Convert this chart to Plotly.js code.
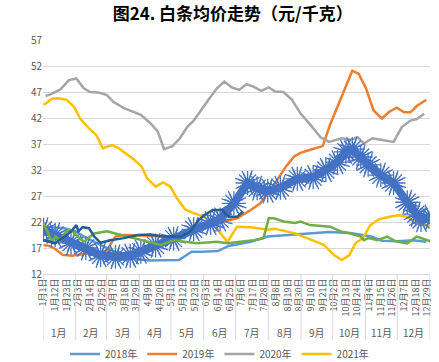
<!DOCTYPE html>
<html>
<head>
<meta charset="utf-8">
<script src="https://cdn.plot.ly/plotly-3.0.1.min.js"></script>
<style>
html,body{margin:0;padding:0;background:#fff;}
#chart{width:439px;height:362px;}
</style>
</head>
<body>
<div id="chart"></div>
<script>
// ---- axis / category data ----
const monthNames = ['1月','2月','3月','4月','5月','6月','7月','8月','9月','10月','11月','12月'];
const monthDays = [31,29,31,30,31,30,31,31,30,31,30,31];
const tickStep = 11;

// ---- series (x = day index in year, 0 = 1月1日) ----
const s2018Day = [0,10,20,30,40,50,60,70,80,90,100,110,120,128,135,140,150,165,175,185,196,212,230,250,270,290,300,310,320,335,350,362];
const s2018Val = [21.1,21.0,20.8,20.2,19.0,18.0,17.0,16.0,15.2,14.8,14.6,14.6,14.6,14.7,15.6,16.3,16.3,16.4,17.4,17.8,18.2,19.2,19.5,19.9,20.1,19.9,19.6,19.2,18.4,18.3,18.5,18.2];

const s2019Day = [0,7,11,18,27,33,43,54,60,68,76,92,111,130,139,155,170,183,196,205,221,229,237,243,254,264,271,281,292,298,305,312,320,327,334,341,347,353,362];
const s2019Val = [17.6,17.3,16.8,15.7,15.5,15.7,16.0,16.1,16.6,19.2,19.5,19.4,19.2,19.3,20.0,21.1,22.1,22.7,24.3,25.6,30.1,32.6,34.6,35.3,36.0,36.6,40.7,45.5,51.1,50.5,47.7,43.5,41.9,43.2,44.0,43.1,43.1,44.3,45.5];

const s2020Day = [2,7,16,24,31,38,44,52,60,66,76,85,92,101,108,114,122,129,136,142,150,156,164,171,178,185,192,199,206,213,219,227,235,243,254,262,270,282,290,297,303,311,331,339,347,353,360];
const s2020Val = [46.2,46.6,47.5,49.3,49.6,47.7,47.0,46.9,46.4,45.1,43.9,43.2,42.6,41.0,39.4,36.0,36.6,38.1,40.3,41.5,43.9,45.5,47.7,49.0,47.9,47.4,48.5,48.0,47.2,47.9,47.1,47.0,45.5,42.9,40.3,38.3,37.4,38.1,37.8,38.3,37.1,38.1,37.4,40.3,41.5,41.8,42.8];

const s2021Day = [0,8,14,22,29,35,43,50,56,65,71,78,85,93,98,106,113,120,126,134,142,152,160,167,174,183,196,212,219,234,238,254,265,275,282,289,295,302,309,317,327,336,344,352,366];
const s2021Val = [44.5,45.7,45.8,45.5,44.1,41.8,40.0,38.7,36.2,36.8,36.2,35.2,34.1,32.6,30.4,28.8,29.6,28.8,26.6,24.4,23.7,23.0,21.8,19.9,18.2,21.1,21.0,20.5,20.7,20.0,19.8,18.5,17.6,15.6,14.7,15.6,17.9,18.9,21.4,22.5,23.0,23.3,23.0,21.8,21.2];

const sStarDay = [0,11,26,40,54,68,82,92,106,123,142,158,167,180,193,202,212,224,240,255,267,278,286,292,300,307,319,331,344,352,357,366];
const sStarVal = [20.5,19.5,18.0,17.0,15.6,15.3,15.5,16.3,17.5,18.8,20.6,21.8,22.5,25.6,29.5,28.5,28.0,28.6,30.3,30.6,32.0,33.5,35.5,36.0,34.5,33.0,31.0,29.5,25.8,23.5,22.4,23.0];

const sGreenDay = [0,5,8,11,16,21,27,32,38,48,60,68,79,92,111,123,132,145,164,174,186,199,208,213,218,227,238,243,252,271,281,290,300,303,307,316,325,333,344,353,366];
const sGreenVal = [21.8,19.5,18.2,19.2,18.5,20.2,20.3,19.2,18.2,19.8,20.2,19.8,19.2,18.5,17.6,18.5,18.2,17.9,18.2,17.9,18.2,18.5,18.9,22.7,22.7,22.1,21.8,22.1,21.4,21.1,20.2,19.8,19.2,18.5,18.9,18.5,19.2,18.3,17.9,19.2,18.3];

const sNavyDay = [0,11,16,22,27,31,33,37,43,48,54,63,76,89,101,113,130,139,147,152,160,169,175,183,189];
const sNavyVal = [18.5,17.9,18.7,19.5,20.4,21.4,20.2,21.0,20.8,19.2,18.0,18.5,18.9,19.5,19.6,19.2,19.2,20.2,22.4,23.3,24.3,24.3,23.0,23.0,24.0];

const yTicks = [12,17,22,27,32,37,42,47,52,57];

// ---- derived axis helpers ----
const totalDays = monthDays.reduce((a,b)=>a+b,0);
const monthStart = [];
{let acc=0; for(const d of monthDays){monthStart.push(acc); acc+=d;}}
function dayLabel(i){
  let m=0; while(m<11 && i>=monthStart[m+1]) m++;
  return monthNames[m] + (i-monthStart[m]+1) + '日';
}
const xTickVals=[]; const xTickText=[];
for(let i=0;i<totalDays;i+=tickStep){xTickVals.push(i); xTickText.push(dayLabel(i));}

const font = 'Noto Sans CJK SC, Noto Sans, sans-serif';
const sepBottom = -0.282;
const shapes = [];
const bounds = monthStart.concat([totalDays]);
for(const b of bounds){
  shapes.push({type:'line', xref:'x', yref:'paper', x0:b-0.5, x1:b-0.5, y0:0, y1:sepBottom,
    line:{color:'#D9D9D9', width:1}});
}
const annotations = monthNames.map((m,i)=>({
  xref:'x', yref:'paper', x: monthStart[i] + monthDays[i]/2 - 0.5, y:-0.252,
  text:m, showarrow:false, font:{family:font, size:10, color:'#595959'}, yanchor:'middle'
}));

function line(name, x, y, color, show){
  return {type:'scatter', mode:'lines', name:name, x:x, y:y, showlegend:show,
    line:{color:color, width:2.5}, hoverinfo:'skip'};
}
const starColor = '#4472C4';
function starMarks(angle, size){
  return {type:'scatter', mode:'markers', x:sStarDay, y:sStarVal, showlegend:false, hoverinfo:'skip',
    marker:{symbol:'asterisk-open', size:size, angle:angle, color:starColor, line:{color:starColor, width:1.3}}};
}
const traces = [
  line('2018年', s2018Day, s2018Val, '#5B9BD5', true),
  line('2019年', s2019Day, s2019Val, '#ED7D31', true),
  line('2020年', s2020Day, s2020Val, '#A5A5A5', true),
  line('2021年', s2021Day, s2021Val, '#FFC000', true),
  {type:'scatter', mode:'lines', x:sStarDay, y:sStarVal, showlegend:false, hoverinfo:'skip',
    line:{color:starColor, width:8}},
  starMarks(0, 20),
  starMarks(22, 17),
  starMarks(-25, 22),
  line('s6', sGreenDay, sGreenVal, '#70AD47', false),
  line('s7', sNavyDay, sNavyVal, '#255E91', false)
];

const layout = {
  width:439, height:362,
  margin:{l:43, r:9, t:40, b:88},
  paper_bgcolor:'#fff', plot_bgcolor:'#fff',
  font:{family:font, color:'#595959'},
  title:{text:'<b>图24. 白条均价走势（元/千克）</b>', x:0.53, xanchor:'center', y:0.962, yanchor:'middle',
    font:{family:font, size:17, color:'#000'}},
  xaxis:{range:[-0.5, totalDays-0.5], tickmode:'array', tickvals:xTickVals, ticktext:xTickText,
    tickangle:-90, tickfont:{family:font, size:9, color:'#595959'}, showgrid:false, zeroline:false,
    showline:true, linecolor:'#D9D9D9', linewidth:1, ticks:'', automargin:false},
  yaxis:{range:[12,57], tickmode:'array', tickvals:yTicks, showgrid:true, gridcolor:'#D9D9D9', gridwidth:1,
    zeroline:false, showline:false, ticks:'', tickfont:{family:font, size:10, color:'#595959'}, automargin:false},
  legend:{orientation:'h', xref:'container', yref:'container', x:0.5, xanchor:'center', y:0.022, yanchor:'middle',
    font:{family:font, size:10, color:'#595959'}, itemwidth:30, tracegroupgap:0},
  shapes:shapes, annotations:annotations
};
Plotly.newPlot('chart', traces, layout, {displayModeBar:false, staticPlot:true});
</script>
</body>
</html>
